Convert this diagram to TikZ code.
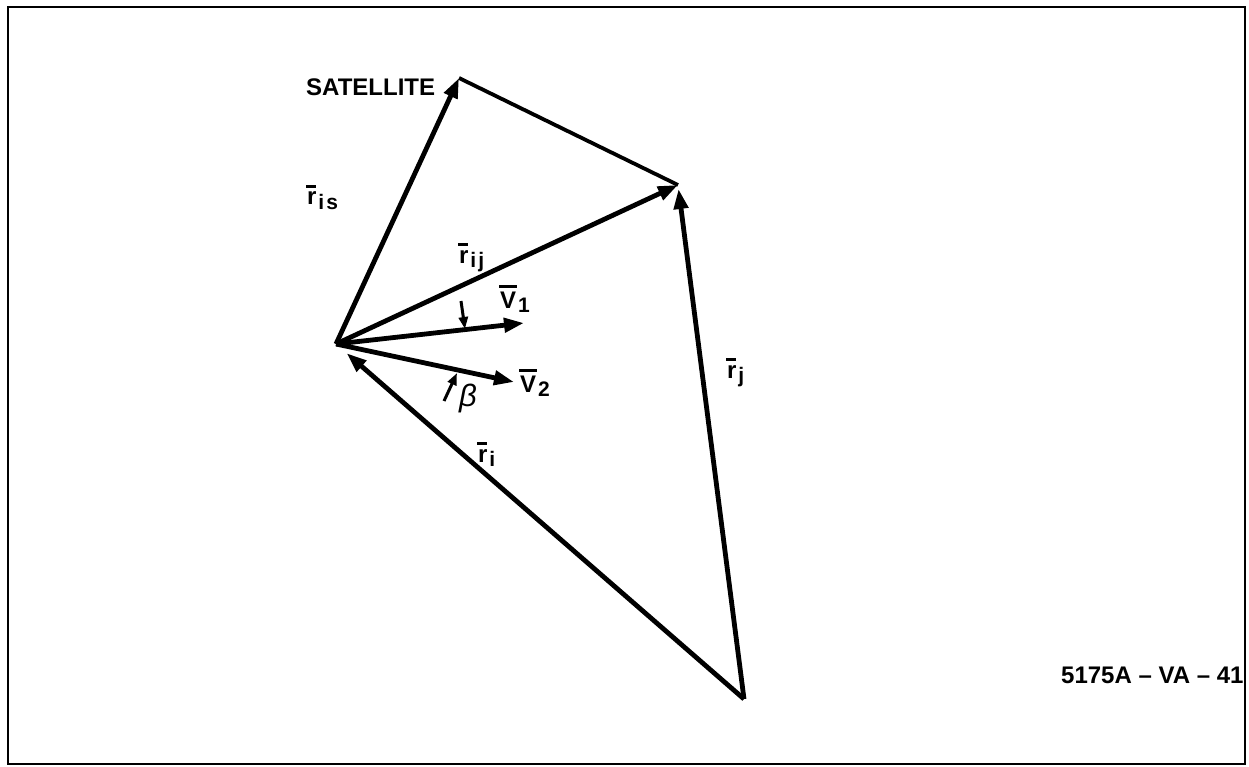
\documentclass[tikz,border=0pt]{standalone}
\usepackage{fontspec}
\setmainfont{Liberation Sans}
\usetikzlibrary{arrows.meta}
\newlength\barlen
\newcommand{\ovbar}[2]{\settowidth\barlen{#1}\makebox[0pt][l]{\hspace{-0.05em}\rule[#2]{1.1\barlen}{0.12em}}#1}
\newcommand{\subs}[1]{\hspace{0.08em}\raisebox{-0.2em}{\fontsize{21}{21}\selectfont\addfontfeature{LetterSpace=10}#1}}
\begin{document}
\begin{tikzpicture}[x=1pt,y=-1pt,
  vec/.style={line width=4.8pt, -{Triangle[length=20pt,width=14pt]}},
  tick/.style={line width=3pt, -{Triangle[length=12pt,width=9pt]}},
  plain/.style={line width=3.8pt},
  frame/.style={line width=2.5pt},
  lbl/.style={inner sep=0pt, anchor=base west, font=\fontsize{24}{24}\selectfont\bfseries}]
\useasboundingbox (0,0) rectangle (1249,767);
\draw[frame] (8,7) rectangle (1245,764);
% points
\coordinate (I) at (336,344);
\coordinate (S) at (459,78);
\coordinate (J) at (678,185);
\coordinate (B) at (744,699);
\coordinate (V1) at (524,323);
\coordinate (V2) at (514,382);
\coordinate (t1) at (461,301);
\coordinate (h1) at (465,329);
\coordinate (t2) at (444,401);
\coordinate (h2) at (457,373);
% vectors
\draw[vec] (I) -- (S);
\draw[plain] (S) -- (J);
\draw[vec] (I) -- (J);
\draw[vec, shorten >=4pt] (B) -- (J);
\draw[vec, shorten >=14pt] (B) -- (I);
\draw[vec] (I) -- (V1);
\draw[vec] (I) -- (V2);
\draw[tick] (t1) -- (h1);
\draw[tick] (t2) -- (h2);
% labels
\node[lbl] (sat) at (306,96) {SATELLITE};
\node[lbl] (ris) at (307,205) {\ovbar{r}{0.72em}\subs{is}};
\node[lbl] (rij) at (459,263) {\ovbar{r}{0.72em}\subs{ij}};
\node[lbl] (v1) at (500,308) {\ovbar{V}{0.85em}\subs{1}};
\node[lbl] (v2) at (520,392) {\ovbar{V}{0.85em}\subs{2}};
\node[lbl, font=\fontsize{31}{31}\selectfont\itshape] (beta) at (459,406) {β};
\node[lbl] (rj) at (727,378) {\ovbar{r}{0.72em}\subs{j}};
\node[lbl] (ri) at (478,462) {\ovbar{r}{0.72em}\subs{i}};
\node[lbl] (code) at (1061,683) {5175A – VA – 41};
\end{tikzpicture}
\end{document}
